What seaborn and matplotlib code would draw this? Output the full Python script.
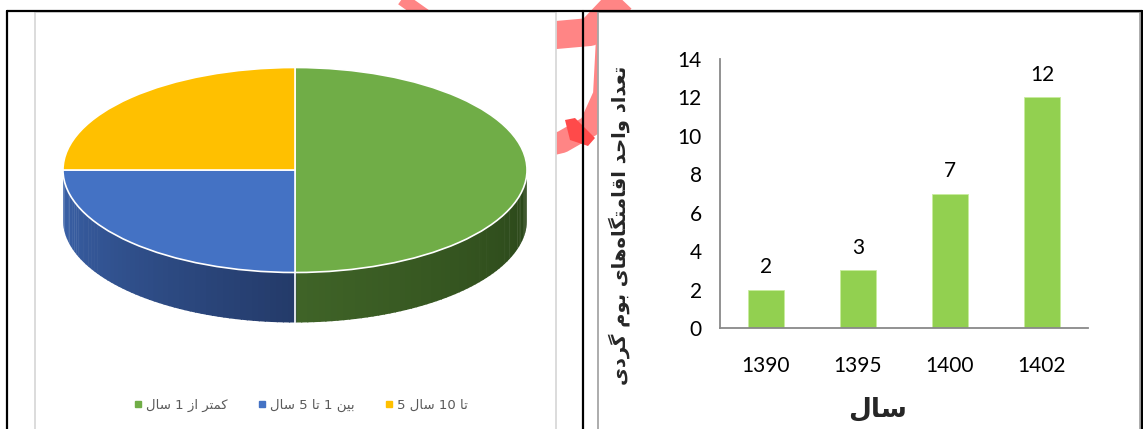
import numpy as np
import pandas as pd
import matplotlib
matplotlib.use("Agg")
import matplotlib.pyplot as plt
import seaborn as sns
from matplotlib.patches import Rectangle, Polygon
from matplotlib.lines import Line2D

# ---------------- data ----------------
years = ["1390", "1395", "1400", "1402"]
counts = [2, 3, 7, 12]
pie_labels = ["کمتر از 1 سال", "بین 1 تا 5 سال", "5 تا 10 سال"]
pie_legend_text = ["کمتر از 1 سال", "بین 1 تا 5 سال", "تا 10 سال 5"]
pie_values = [50, 25, 25]
ylabel_text = "تعداد واحد اقامتگاه\u200cهای بوم گردی"
xlabel_text = "سال"

pie_colors = ["#70AD47", "#4472C4", "#FFC000"]
side_grad = {0: ("#3f6327", "#2a4619"), 1: ("#3b63ab", "#243b6a"), 2: ("#c79600", "#8a6800")}
bar_color = "#92D050"

# ---------------- minimal Persian shaping ----------------
FORMS = {  # isolated, final, initial, medial
    'ا': ('\uFE8D', '\uFE8E', None, None),
    'ب': ('\uFE8F', '\uFE90', '\uFE91', '\uFE92'),
    'ت': ('\uFE95', '\uFE96', '\uFE97', '\uFE98'),
    'ح': ('\uFEA1', '\uFEA2', '\uFEA3', '\uFEA4'),
    'د': ('\uFEA9', '\uFEAA', None, None),
    'ر': ('\uFEAD', '\uFEAE', None, None),
    'ز': ('\uFEAF', '\uFEB0', None, None),
    'س': ('\uFEB1', '\uFEB2', '\uFEB3', '\uFEB4'),
    'ع': ('\uFEC9', '\uFECA', '\uFECB', '\uFECC'),
    'ق': ('\uFED5', '\uFED6', '\uFED7', '\uFED8'),
    'ل': ('\uFEDD', '\uFEDE', '\uFEDF', '\uFEE0'),
    'م': ('\uFEE1', '\uFEE2', '\uFEE3', '\uFEE4'),
    'ن': ('\uFEE5', '\uFEE6', '\uFEE7', '\uFEE8'),
    'ه': ('\uFEE9', '\uFEEA', '\uFEEB', '\uFEEC'),
    'و': ('\uFEED', '\uFEEE', None, None),
    'ی': ('\uFBFC', '\uFBFD', '\uFBFE', '\uFBFF'),
    'ک': ('\uFB8E', '\uFB8F', '\uFB90', '\uFB91'),
    'گ': ('\uFB92', '\uFB93', '\uFB94', '\uFB95'),
}


def shape_word(w):
    out = []
    for i, ch in enumerate(w):
        if ch not in FORMS:
            if ch != '\u200c':
                out.append(ch)
            continue
        prev = w[i - 1] if i > 0 else None
        nxt = w[i + 1] if i + 1 < len(w) else None
        jp = prev in FORMS and FORMS[prev][2] is not None
        jn = nxt in FORMS and FORMS[ch][2] is not None
        iso, fin, ini, med = FORMS[ch]
        out.append(med if (jp and jn) else fin if jp else ini if jn else iso)
    return ''.join(out)


def visual(s):
    parts = []
    for w in reversed(s.split(' ')):
        if any(c in FORMS for c in w):
            parts.append(shape_word(w)[::-1])
        else:
            parts.append(w)
    return ' '.join(parts)


# ---------------- figure ----------------
sns.set_theme(style="white")
plt.rcParams['font.family'] = ['Lato', 'DejaVu Sans']
W, H = 1143, 429
fig = plt.figure(figsize=(W / 100, H / 100), dpi=100)
fig.patch.set_facecolor("white")


def P(x, y):
    return (x / W, 1 - y / H)


def rect(x0, y0, x1, y1):
    return [x0 / W, 1 - y1 / H, (x1 - x0) / W, (y1 - y0) / H]


pxl = 0.72  # points per pixel

# decorative pink stamp fragments (behind chart boxes)
pink = "#FF8585"
for pts, lw in [
    ([(500, 40), (590, 32), (628, -8)], 28),
    ([(607, 38), (604, 95), (590, 126), (562, 142), (520, 152)], 22),
    ([(392, -8), (426, 16)], 13),
]:
    xs = [P(*p)[0] for p in pts]
    ys = [P(*p)[1] for p in pts]
    fig.add_artist(Line2D(xs, ys, transform=fig.transFigure, color=pink,
                          lw=lw * pxl, solid_capstyle="butt", solid_joinstyle="round", zorder=0.1))
fig.add_artist(Polygon([P(565, 120), P(575, 118), P(595, 138), P(588, 146), P(570, 140)],
                       closed=True, transform=fig.transFigure, color="#FF4A4A", lw=0, zorder=0.2))

# chart boxes
fig.add_artist(Rectangle(P(35, 440), (556 - 35) / W, (440 - 12) / H, transform=fig.transFigure,
                         facecolor="white", edgecolor="#d9d9d9", lw=1.3, zorder=0.5))
fig.add_artist(Rectangle(P(598, 440), (1140 - 598) / W, (440 - 12) / H, transform=fig.transFigure,
                         facecolor="white", edgecolor="#a6a6a6", lw=1.3, zorder=0.5))
# black frame lines
for (a, b) in [((7, 11), (1142, 11)), ((7, 11), (7, 440)), ((583, 11), (583, 440)), ((1142, 11), (1142, 440))]:
    fig.add_artist(Line2D([P(*a)[0], P(*b)[0]], [P(*a)[1], P(*b)[1]], transform=fig.transFigure,
                          color="black", lw=1.6, zorder=0.8))

# ---------------- 3D pie ----------------
cx, cy, rx, ry, depth = 295, 170, 232, 102.5, 50
bx0, by0, bx1, by1 = 43, 55, 547, 335
axp = fig.add_axes(rect(bx0, by0, bx1, by1), zorder=5)
axp.patch.set_alpha(0)
wedges, _ = axp.pie(pie_values, colors=pie_colors, startangle=90, counterclock=False,
                    wedgeprops=dict(edgecolor="white", linewidth=1.2), radius=1)
axp.set_aspect("auto")
axp.set_xlim((bx0 - cx) / rx, (bx1 - cx) / rx)
axp.set_ylim((cy - by1) / ry, (cy - by0) / ry)
axp.axis("off")
d = depth / ry


def mix(c1, c2, t):
    a = np.array(matplotlib.colors.to_rgb(c1))
    b = np.array(matplotlib.colors.to_rgb(c2))
    return tuple(a + (b - a) * t)


for i, wdg in enumerate(wedges):
    t1, t2 = sorted([wdg.theta1, wdg.theta2])
    # visible front side: angles in [-180, 0]
    lo, hi = max(t1, -180), min(t2, 0)
    if t1 >= 0:
        lo, hi = max(t1 - 360, -180), min(t2 - 360, 0)
    if hi <= lo:
        continue
    n = 60
    edges = np.linspace(lo, hi, n + 1)
    c_start, c_end = side_grad[i]
    for k in range(n):
        a = np.radians(np.linspace(edges[k], edges[k + 1] + 0.3, 4))
        xs = np.cos(a)
        ys = np.sin(a)
        poly = np.concatenate([np.c_[xs, ys], np.c_[xs[::-1], ys[::-1] - d]])
        axp.add_patch(Polygon(poly, closed=True, facecolor=mix(c_start, c_end, k / (n - 1)),
                              edgecolor="none", zorder=0.5))
axp.plot([0, 0], [-1, -1 - d], color="white", lw=1.2, zorder=0.6)
for wdg in wedges:
    wdg.set_zorder(1)

# legend
handles = [Line2D([], [], marker="s", linestyle="none", markersize=5, color=c) for c in pie_colors]
fig.legend(handles, [visual(t) for t in pie_legend_text], ncol=3, loc="center",
           bbox_to_anchor=P(300, 405), frameon=False, handletextpad=0.2, columnspacing=2.2,
           handlelength=0.8, prop=dict(family="DejaVu Sans", size=9.5), labelcolor="#595959")

# ---------------- bar chart ----------------
df = pd.DataFrame({"year": years, "count": counts})
axb = fig.add_axes(rect(720, 59, 1088, 328), zorder=5)
axb.patch.set_alpha(0)
sns.barplot(data=df, x="year", y="count", color=bar_color, width=0.4, ax=axb,
            saturation=1, edgecolor="#c8ec9e", linewidth=0.6)
axb.set_ylim(0, 14)
axb.set_xlim(-0.5, len(years) - 0.5)
axb.set_yticks(np.arange(0, 15, 2))
axb.set_xticks(np.arange(-0.5, len(years), 1.0), minor=True)
axb.tick_params(axis="x", which="major", length=0, labelsize=15, pad=20, colors="black")
axb.tick_params(axis="x", which="minor", length=7, width=1.3, color="#898989", direction="out")
axb.tick_params(axis="y", length=7, width=1.3, color="#898989", labelsize=15, pad=6, direction="out")
for lab in axb.get_xticklabels() + axb.get_yticklabels():
    lab.set_color("black")
for s in ["top", "right"]:
    axb.spines[s].set_visible(False)
for s in ["left", "bottom"]:
    axb.spines[s].set_color("#898989")
    axb.spines[s].set_linewidth(1.3)
axb.bar_label(axb.containers[0], padding=9, fontsize=15, color="black")
axb.set_xlabel(visual(xlabel_text), family="DejaVu Sans", fontweight="bold", fontsize=19)
axb.xaxis.set_label_coords((878 - 720) / 368, (328 - 396) / 269)
axb.set_ylabel(visual(ylabel_text), family="DejaVu Sans", fontweight="bold", fontsize=14)
axb.yaxis.set_label_coords((630 - 720) / 368, (328 - 225) / 269)

fig.savefig("out.png", dpi=100)
